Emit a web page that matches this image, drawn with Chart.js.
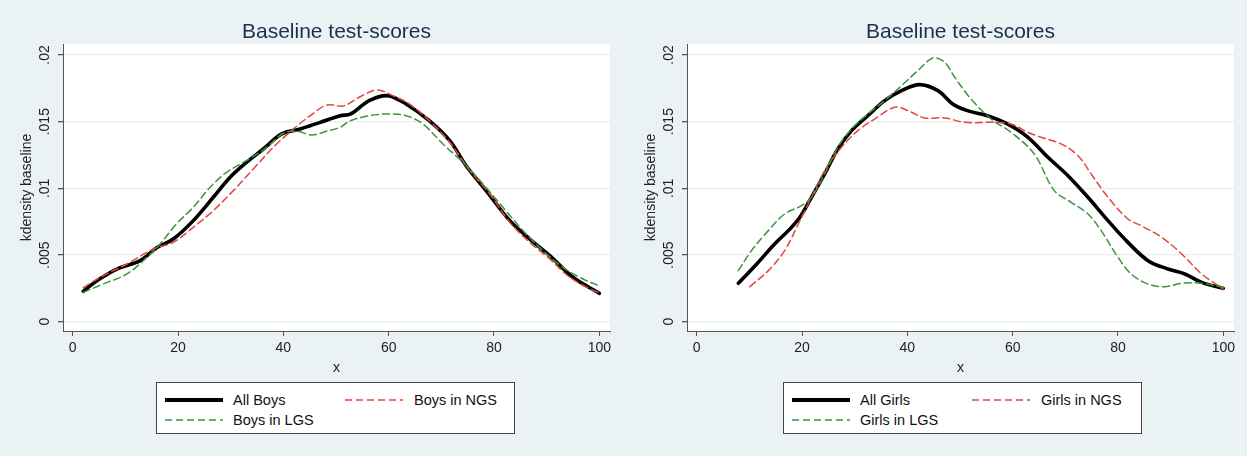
<!DOCTYPE html>
<html>
<head>
<meta charset="utf-8">
<script src="https://cdn.jsdelivr.net/npm/chart.js@4.4.1/dist/chart.umd.min.js"></script>
<style>
  body { margin: 0; background: #eaf2f3; width: 1247px; height: 456px; position: relative; overflow: hidden;
         font-family: "Liberation Sans", Arial, sans-serif; }
  .panel { position: absolute; top: 0; width: 623px; height: 456px; }
  .panel canvas { position: absolute; left: 0; top: 0; }
  .title { position: absolute; top: 19px; left: 63px; width: 547px; text-align: center; font-size: 21px;
           line-height: 24px; color: #1c2d50; }
  .legend { position: absolute; top: 382px; width: 357px; height: 50px; background: #fff; border: 1px solid #444; }
  .legend .item { position: absolute; font-size: 14.5px; color: #111; line-height: 18px; white-space: nowrap; }
  .legend svg { position: absolute; }
</style>
</head>
<body>
<div class="panel" id="p1" style="left:0">
  <canvas id="boys" width="623" height="456"></canvas>
  <div class="title">Baseline test-scores</div>
  <div class="legend" id="leg1" style="left:156px"></div>
</div>
<div class="panel" id="p2" style="left:624px">
  <canvas id="girls" width="623" height="456"></canvas>
  <div class="title">Baseline test-scores</div>
  <div class="legend" id="leg2" style="left:159px"></div>
</div>
<script>
// axis ticks
const xTicks = [0, 20, 40, 60, 80, 100];
const yTicks = [0, 0.005, 0.01, 0.015, 0.02];
const yTickLabels = ['0', '.005', '.01', '.015', '.02'];

// left panel: boys
const allBoysX = [2, 4.6, 8.4, 12.8, 15.9, 19.1, 22.9, 26.7, 29.9, 33.0, 36.2, 39.7, 43.2, 47.0, 50.8, 52.8, 56.3, 59.8, 63.3, 67.7, 71.6, 74.7, 78.5, 83.0, 86.8, 90.6, 95.0, 100];
const allBoysY = [0.00228, 0.00308, 0.00395, 0.00458, 0.00553, 0.0062, 0.00758, 0.00933, 0.01083, 0.01195, 0.01295, 0.01408, 0.01445, 0.01495, 0.01545, 0.01558, 0.01658, 0.01695, 0.01633, 0.01508, 0.01358, 0.0117, 0.00983, 0.00758, 0.0062, 0.00495, 0.00333, 0.00213];
const ngsBoysX = [2, 5.2, 10.3, 15.3, 19.1, 22.9, 26.7, 30.5, 34.3, 38.1, 41.9, 45.1, 48.3, 51.4, 54.4, 57.8, 60.8, 63.9, 67.7, 71.6, 75.4, 79.2, 83.0, 86.8, 90.6, 94.4, 98.9, 100];
const ngsBoysY = [0.00253, 0.00333, 0.00433, 0.00545, 0.00595, 0.00708, 0.00833, 0.00983, 0.01145, 0.01308, 0.01445, 0.01545, 0.01625, 0.01618, 0.01683, 0.01738, 0.01695, 0.01633, 0.01508, 0.01345, 0.01133, 0.00958, 0.00745, 0.00595, 0.0047, 0.00333, 0.00233, 0.0022];
const lgsBoysX = [2, 5.8, 10.3, 14.1, 16.6, 19.7, 22.9, 26.1, 29.2, 33.0, 36.8, 40.0, 42.5, 45.5, 48.2, 50.8, 52.5, 56.3, 60.1, 63.3, 66.5, 70.3, 74.1, 77.9, 81.7, 85.5, 89.3, 93.1, 96.9, 100];
const lgsBoysY = [0.0022, 0.00283, 0.00358, 0.00483, 0.00583, 0.00733, 0.00858, 0.01008, 0.0112, 0.01208, 0.01308, 0.01413, 0.01428, 0.014, 0.01428, 0.01458, 0.01503, 0.01545, 0.01558, 0.01545, 0.01483, 0.01333, 0.01195, 0.01033, 0.00858, 0.00683, 0.00533, 0.00408, 0.0032, 0.0027];

// right panel: girls
const allGirlsX = [7.9, 11.4, 14.8, 17.4, 19.6, 21.8, 24.3, 26.8, 29.4, 32.5, 35.7, 38.9, 42.3, 45.8, 48.6, 51.4, 55.2, 59.0, 62.9, 66.7, 70.5, 74.3, 78.1, 81.9, 85.7, 89.5, 92.7, 95.9, 100];
const allGirlsY = [0.00288, 0.00433, 0.00583, 0.00683, 0.00783, 0.00933, 0.01108, 0.01295, 0.01433, 0.01545, 0.01658, 0.01733, 0.01778, 0.01733, 0.01633, 0.01583, 0.01545, 0.01483, 0.01383, 0.01233, 0.01095, 0.00933, 0.00758, 0.00595, 0.00458, 0.00395, 0.00358, 0.00295, 0.0025];
const ngsGirlsX = [10.1, 13.6, 16.7, 19.3, 21.8, 24.3, 27.5, 30.6, 33.8, 37.6, 40.1, 43.3, 47.1, 50.9, 56.5, 59.7, 62.9, 65.4, 69.2, 72.4, 74.9, 78.1, 81.9, 84.4, 88.3, 92.1, 95.9, 100];
const ngsGirlsY = [0.00263, 0.00383, 0.00533, 0.00733, 0.00933, 0.01133, 0.01308, 0.01433, 0.0152, 0.01608, 0.01583, 0.01528, 0.01528, 0.01495, 0.01495, 0.01483, 0.0142, 0.01383, 0.01333, 0.01245, 0.01108, 0.00933, 0.0077, 0.0072, 0.00633, 0.00508, 0.00358, 0.00245];
const lgsGirlsX = [7.9, 10.4, 13.6, 16.7, 19.9, 21.8, 24.3, 26.8, 29.4, 32.5, 35.7, 38.9, 42.0, 44.9, 47.1, 49.0, 52.1, 55.9, 59.7, 64.1, 67.9, 71.1, 74.3, 76.8, 80.0, 82.5, 85.7, 88.9, 92.1, 95.9, 100];
const lgsGirlsY = [0.00383, 0.00533, 0.00683, 0.00808, 0.0087, 0.00933, 0.01108, 0.01308, 0.01445, 0.01558, 0.01658, 0.0177, 0.01883, 0.01978, 0.01945, 0.01833, 0.0167, 0.0152, 0.0142, 0.01258, 0.00983, 0.00895, 0.00808, 0.00683, 0.00483, 0.00358, 0.00283, 0.00263, 0.00288, 0.00288, 0.00258];

const RED = '#e0473f';
const GREEN = '#3b963b';

Chart.defaults.font.family = '"Liberation Sans", Arial, sans-serif';
Chart.defaults.font.size = 14;
Chart.defaults.color = '#222';

function pts(xs, ys) {
  return xs.map((x, i) => ({ x: x, y: ys[i] }));
}

// white plot region + vertical y tick labels (stata style)
const stataPlugin = {
  id: 'stata',
  beforeDraw(chart) {
    const a = chart.chartArea;
    const ctx = chart.ctx;
    ctx.save();
    ctx.fillStyle = '#fff';
    ctx.fillRect(a.left, a.top, a.right - a.left, a.bottom - a.top);
    ctx.restore();
  },
  afterDraw(chart) {
    const ctx = chart.ctx;
    const ys = chart.scales.y;
    ctx.save();
    ctx.font = '14px "Liberation Sans", Arial, sans-serif';
    ctx.fillStyle = '#222';
    ctx.textAlign = 'center';
    ctx.textBaseline = 'middle';
    yTicks.forEach((v, i) => {
      const py = ys.getPixelForValue(v);
      ctx.save();
      ctx.translate(45, py);
      ctx.rotate(-Math.PI / 2);
      ctx.fillText(yTickLabels[i], 0, 0);
      ctx.restore();
    });
    ctx.restore();
  }
};

function makeChart(id, series) {
  const ctx = document.getElementById(id).getContext('2d');
  return new Chart(ctx, {
    type: 'line',
    data: {
      datasets: [
        { label: series[0].label, data: pts(series[0].x, series[0].y), borderColor: '#000', borderWidth: 3.6, order: 3 },
        { label: series[1].label, data: pts(series[1].x, series[1].y), borderColor: RED, borderWidth: 1.5, borderDash: [7, 4], order: 2 },
        { label: series[2].label, data: pts(series[2].x, series[2].y), borderColor: GREEN, borderWidth: 1.5, borderDash: [7, 4], order: 1 }
      ]
    },
    options: {
      responsive: false,
      animation: false,
      elements: { point: { radius: 0 }, line: { tension: 0.35, borderCapStyle: 'round', borderJoinStyle: 'round' } },
      layout: { padding: { left: 0, top: 44, right: 13, bottom: 79 } },
      scales: {
        x: {
          type: 'linear',
          min: -1.84,
          max: 102.03,
          afterBuildTicks: (s) => { s.ticks = xTicks.map(v => ({ value: v })); },
          afterFit: (s) => { s.height = 46; },
          ticks: { maxRotation: 0, padding: 4, color: '#222', callback: (v) => String(v) },
          grid: { drawOnChartArea: false, drawTicks: true, tickLength: 5, tickColor: '#555' },
          border: { display: true, color: '#555', width: 1 },
          title: { display: true, text: 'x', color: '#222', font: { size: 14 }, padding: { top: 0, bottom: 0 } }
        },
        y: {
          min: -0.000697,
          max: 0.020825,
          afterBuildTicks: (s) => { s.ticks = yTicks.map(v => ({ value: v })); },
          afterFit: (s) => { s.width = 63; },
          ticks: { display: false },
          grid: { color: '#e6eef0', lineWidth: 1.3, drawTicks: true, tickLength: 5, tickColor: '#555' },
          border: { display: true, color: '#555', width: 1 },
          title: { display: true, text: 'kdensity baseline', color: '#222', font: { size: 14 }, padding: { top: 19, bottom: 0 } }
        }
      },
      plugins: { legend: { display: false }, tooltip: { enabled: false } }
    },
    plugins: [stataPlugin]
  });
}

function buildLegend(id, labels) {
  const box = document.getElementById(id);
  const spots = [
    { sx: 8, tx: 76, y: 17, color: '#000', w: 4, dash: '' },
    { sx: 188, tx: 257, y: 17, color: RED, w: 1.5, dash: '7 4' },
    { sx: 8, tx: 76, y: 37, color: GREEN, w: 1.5, dash: '7 4' }
  ];
  spots.forEach((s, i) => {
    const svg = document.createElementNS('http://www.w3.org/2000/svg', 'svg');
    svg.setAttribute('width', '60');
    svg.setAttribute('height', '8');
    svg.style.left = s.sx + 'px';
    svg.style.top = (s.y - 4) + 'px';
    const ln = document.createElementNS('http://www.w3.org/2000/svg', 'line');
    ln.setAttribute('x1', '0'); ln.setAttribute('x2', '58');
    ln.setAttribute('y1', '4'); ln.setAttribute('y2', '4');
    ln.setAttribute('stroke', s.color);
    ln.setAttribute('stroke-width', s.w);
    if (s.dash) ln.setAttribute('stroke-dasharray', s.dash);
    svg.appendChild(ln);
    box.appendChild(svg);
    const t = document.createElement('div');
    t.className = 'item';
    t.style.left = s.tx + 'px';
    t.style.top = (s.y - 9) + 'px';
    t.textContent = labels[i];
    box.appendChild(t);
  });
}

makeChart('boys', [
  { label: 'All Boys', x: allBoysX, y: allBoysY },
  { label: 'Boys in NGS', x: ngsBoysX, y: ngsBoysY },
  { label: 'Boys in LGS', x: lgsBoysX, y: lgsBoysY }
]);
makeChart('girls', [
  { label: 'All Girls', x: allGirlsX, y: allGirlsY },
  { label: 'Girls in NGS', x: ngsGirlsX, y: ngsGirlsY },
  { label: 'Girls in LGS', x: lgsGirlsX, y: lgsGirlsY }
]);
buildLegend('leg1', ['All Boys', 'Boys in NGS', 'Boys in LGS']);
buildLegend('leg2', ['All Girls', 'Girls in NGS', 'Girls in LGS']);
</script>
</body>
</html>
